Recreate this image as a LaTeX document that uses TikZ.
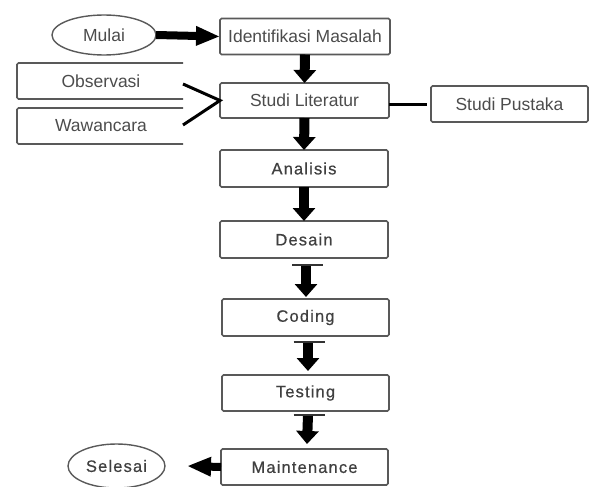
\documentclass[tikz,border=0pt]{standalone}
\usepackage{fontspec}
\setmainfont{Liberation Sans}
\newfontfamily\stepfont[LetterSpace=7,FakeBold=0.6]{Liberation Sans}
\usetikzlibrary{arrows.meta,shapes.geometric}
\begin{document}
\begin{tikzpicture}[x=1pt,y=-1pt,
  boxline/.style={draw=black!65,line width=1.6pt,rounded corners=1.5pt},
  procbox/.style={boxline,rectangle,inner sep=0pt,outer sep=0pt,
    text=black!70,font=\fontsize{17.5}{20}\selectfont},
  stepbox/.style={procbox,font=\stepfont\fontsize{16.5}{20}\selectfont,text=black!75},
  sidebox/.style={rectangle,inner sep=0pt,outer sep=0pt,
    minimum width=168pt,minimum height=36pt,text=black!70,font=\fontsize{17.5}{20}\selectfont},
  term/.style={ellipse,draw=black!65,line width=1.4pt,inner sep=0pt,outer sep=0pt},
  flow/.style={line width=10pt,-{Triangle[length=13pt,width=22pt]}},
  sideflow/.style={line width=8pt,-{Triangle[length=24pt,width=18pt]}},
  link/.style={line width=3pt,black},
  tbar/.style={line width=2.4pt,black!80}]
\useasboundingbox (0,0) rectangle (589,487);

% terminals
\node[term,minimum width=104pt,minimum height=40pt,text=black!70,
  font=\fontsize{17.5}{20}\selectfont] (mulai) at (104,35) {Mulai};
\node[term,minimum width=97pt,minimum height=44pt,text=black!75,
  font=\stepfont\fontsize{16.5}{20}\selectfont] (selesai) at (116.5,466) {Selesai};

% process steps
\node[procbox,minimum width=170pt,minimum height=36pt] (ident) at (305,36.5) {Identifikasi Masalah};
\node[procbox,minimum width=169pt,minimum height=35pt] (studi) at (304.5,100.5) {Studi Literatur};
\node[procbox,minimum width=157pt,minimum height=36pt] (pustaka) at (509.5,104) {Studi Pustaka};
\node[stepbox,minimum width=168pt,minimum height=37pt] (analisis) at (304,168.5) {Analisis};
\node[stepbox,minimum width=168pt,minimum height=37pt] (desain) at (304,239.5) {Desain};
\node[stepbox,minimum width=167pt,minimum height=37pt] (coding) at (305.5,317.5) {Coding};
\node[stepbox,minimum width=167pt,minimum height=36pt] (testing) at (305.5,393) {Testing};
\node[stepbox,minimum width=167pt,minimum height=36pt] (maint) at (304.5,467) {Maintenance};

% data sources, open on the right side
\node[sidebox] (obs) at (101,81) {Observasi};
\node[sidebox] (waw) at (101,126) {Wawancara};
\draw[boxline] ([xshift=-2pt]obs.north east) -- (obs.north west) -- (obs.south west) -- ([xshift=-2pt]obs.south east);
\draw[boxline] ([xshift=-2pt]waw.north east) -- (waw.north west) -- (waw.south west) -- ([xshift=-2pt]waw.south east);

% connectors
\draw[sideflow] (mulai.east) -- (ident.west);
\draw[flow] (ident.south) -- (studi.north);
\draw[flow] (studi.south) -- (analisis.north);
\draw[flow] (analisis.south) -- (desain.north);
\draw[flow] ([xshift=2pt,yshift=-7pt]desain.south) -- ([xshift=0.5pt,yshift=2pt]coding.north);
\draw[flow] ([xshift=2.5pt,yshift=-6pt]coding.south) -- ([xshift=2.5pt,yshift=4pt]testing.north);
\draw[flow] ([xshift=2.5pt,yshift=-4pt]testing.south) -- ([xshift=2.5pt,yshift=5pt]maint.north);
\draw[sideflow] (maint.west) -- ([xshift=22pt]selesai.east);

% short caps over the lower arrows
\draw[tbar] ([xshift=-12pt,yshift=-7pt]desain.south) -- ([xshift=19pt,yshift=-7pt]desain.south);
\draw[tbar] ([xshift=-12pt,yshift=-6pt]coding.south) -- ([xshift=19pt,yshift=-6pt]coding.south);
\draw[tbar] ([xshift=-12pt,yshift=-4pt]testing.south) -- ([xshift=19pt,yshift=-4pt]testing.south);

\draw[link] ([xshift=-2pt,yshift=-3pt]obs.east) -- (studi.west) -- ([xshift=-2pt,yshift=1pt]waw.east);
\draw[link] ([yshift=-3.5pt]studi.east) -- ([xshift=-4pt]pustaka.west);
\end{tikzpicture}
\end{document}
